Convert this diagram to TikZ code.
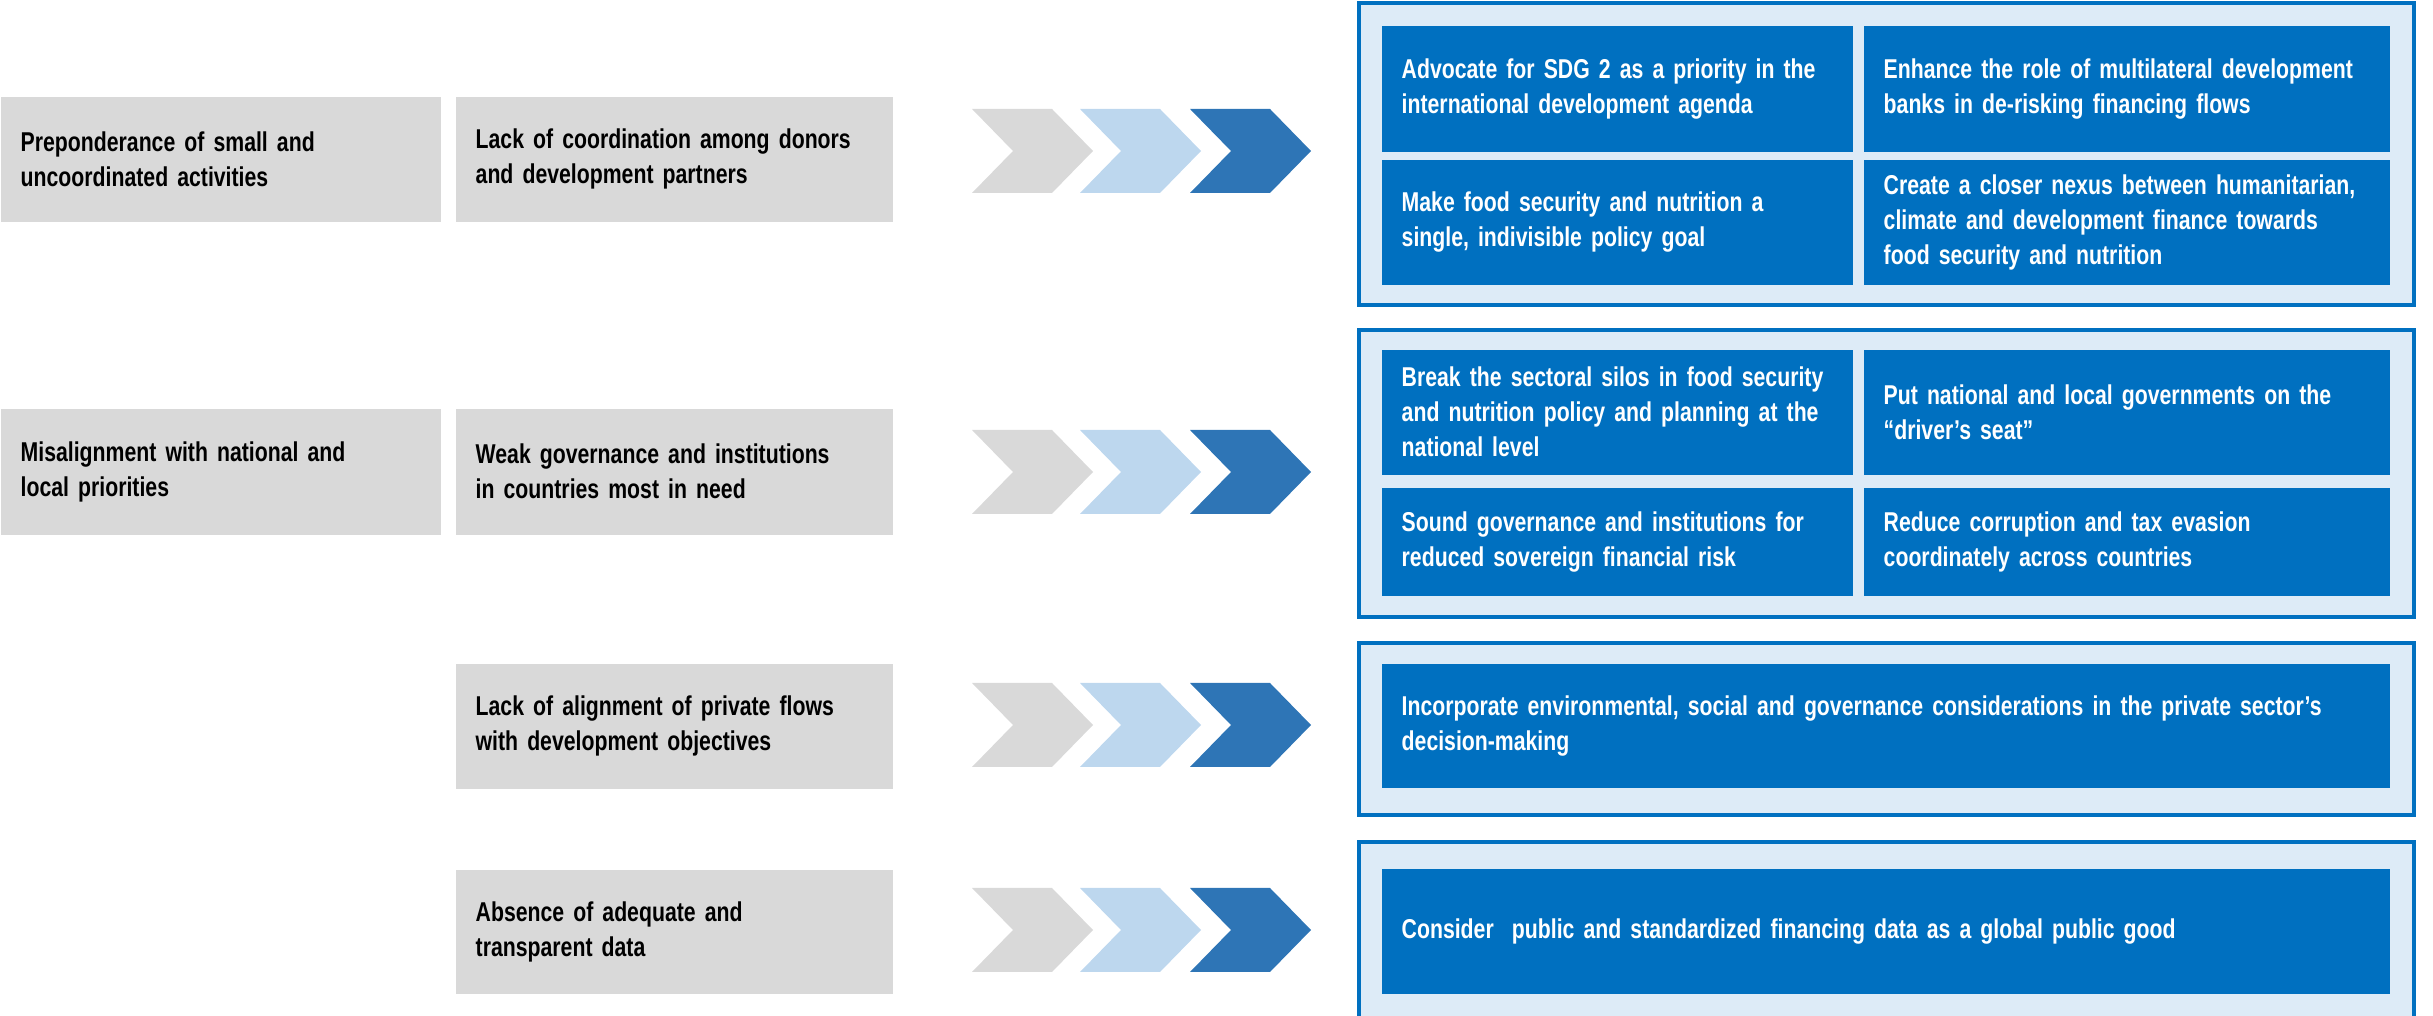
\documentclass[tikz,border=0pt]{standalone}
\usepackage{fontspec}
\setmainfont{Liberation Sans}[FakeStretch=0.78, WordSpace=0.8]
\usepackage{tikz}
\hyphenpenalty=10000
\definecolor{boxgray}{RGB}{217, 217, 217}
\definecolor{actblue}{RGB}{0, 112, 192}
\definecolor{panelblue}{RGB}{221, 235, 247}
\definecolor{chevlight}{RGB}{189, 215, 238}
\definecolor{chevdark}{RGB}{46, 117, 182}

\begin{document}
\begin{tikzpicture}[x=0.1mm, y=-0.1mm,
			greybox/.style={fill=boxgray, text=black, text width=#1, align=left, inner xsep=2mm, inner ysep=0pt, anchor=north west},
			actbox/.style={fill=actblue, text=white, text width=#1, align=left, inner xsep=2mm, inner ysep=0pt, anchor=north west},
			panel/.style={draw=actblue, fill=panelblue, line width=0.4mm},
			font=\fontsize{7.75pt}{9.96pt}\selectfont\bfseries]
			%Rahmen
			\useasboundingbox (0,0) rectangle (2433,1016);
			% Hintergrundfelder rechts
			\foreach \t/\b in {3/305, 330/617, 643/815, 842/1030}
				\draw[panel] (1359,\t) rectangle (2414,\b);
			% linke Spalte
			\node[greybox=40mm, minimum height=12.5mm] (issue1) at (0,96) {Preponderance of small and\\uncoordinated activities};
			\node[greybox=40mm, minimum height=12.6mm] (issue2) at (0,408) {Misalignment with national and\\local priorities};
			% zweite Spalte
			\node[greybox=39.7mm, minimum height=12.5mm] (gap1) at (455,96) {Lack of coordination among donors\\and development partners};
			\node[greybox=39.7mm, minimum height=12.6mm] (gap2) at (455,408) {Weak governance and institutions\\in countries most in need};
			\node[greybox=39.7mm, minimum height=12.5mm] (gap3) at (455,663) {Lack of alignment of private flows\\with development objectives};
			\node[greybox=39.7mm, minimum height=12.4mm] (gap4) at (455,869) {Absence of adequate and\\transparent data};
			% Pfeile zeichnen
			\foreach \y in {151, 472, 725, 930}
				\foreach \x/\c in {972/boxgray, 1080/chevlight, 1190/chevdark}
					\fill[\c] (\x,\y-42) -- ++(80,0) -- ++(41,42) -- ++(-41,42) -- ++(-80,0) -- ++(41,-42) -- cycle;
			% Massnahmen, erstes Feld
			\node[actbox=43.1mm, minimum height=12.6mm] (act1a) at (1381,25) {Advocate for SDG 2 as a priority in the\\international development agenda};
			\node[actbox=48.6mm, minimum height=12.6mm] (act1b) at (1863,25) {Enhance the role of multilateral development\\banks in de-risking financing flows};
			\node[actbox=43.1mm, minimum height=12.5mm] (act1c) at (1381,159) {Make food security and nutrition a\\single, indivisible policy goal};
			\node[actbox=48.6mm, minimum height=12.5mm] (act1d) at (1863,159) {Create a closer nexus between humanitarian,\\climate and development finance towards\\food security and nutrition};
			% zweites Feld
			\node[actbox=43.1mm, minimum height=12.5mm] (act2a) at (1381,349) {Break the sectoral silos in food security\\and nutrition policy and planning at the\\national level};
			\node[actbox=48.6mm, minimum height=12.5mm] (act2b) at (1863,349) {Put national and local governments on the\\“driver’s seat”};
			\node[actbox=43.1mm, minimum height=10.8mm] (act2c) at (1381,487) {Sound governance and institutions for\\reduced sovereign financial risk};
			\node[actbox=48.6mm, minimum height=10.8mm] (act2d) at (1863,487) {Reduce corruption and tax evasion\\coordinately across countries};
			% drittes und viertes Feld
			\node[actbox=96.8mm, minimum height=12.4mm] (act3) at (1381,663) {Incorporate environmental, social and governance considerations in the private sector’s\\decision-making};
			\node[actbox=96.8mm, minimum height=12.5mm] (act4) at (1381,868) {Consider~ public and standardized financing data as a global public good};
		\end{tikzpicture}
\end{document}
